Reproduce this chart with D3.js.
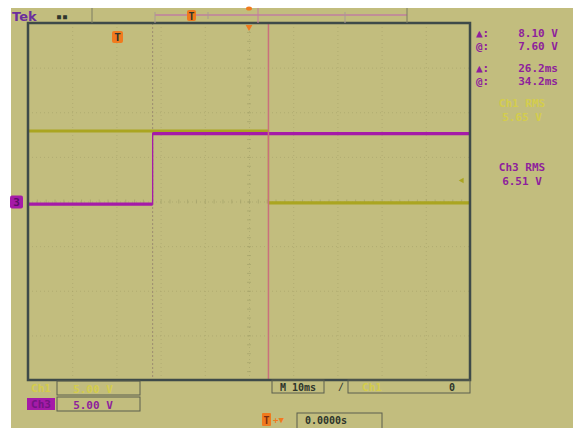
<!DOCTYPE html>
<html>
<head>
<meta charset="utf-8">
<script src="https://cdn.jsdelivr.net/npm/d3@7"></script>
<style>
  html, body { margin: 0; padding: 0; background: #fff; }
  svg { display: block; }
</style>
</head>
<body>
<svg id="scope" width="573" height="428"></svg>
<script>
// 10 ms/div across 10 divisions, 5 V/div across 8 divisions
const timeDivs = d3.range(-50, 51, 10);
const voltDivs = d3.range(-20, 21, 5);
const timeMinor = d3.range(-50, 51, 2);
const voltMinor = d3.range(-20, 21, 1);

// Ch1 (yellow) and Ch3 (magenta) traces
const ch1Time = [-50, 4.4, 4.4, 50];
const ch1Volts = [7.9, 7.9, -0.15, -0.15];
const ch3Time = [-50, -21.8, -21.8, 50];
const ch3Volts = [-0.3, -0.3, 7.6, 7.6];

const cursorTimes = [-21.8, 4.4];
const triggerLevel = 2.35;

const readoutLabels = ["\u25B2:", "@:", "\u25B2:", "@:"];
const readoutValues = ["8.10 V", "7.60 V", "26.2ms", "34.2ms"];
const rmsLabels = ["Ch1 RMS", "Ch3 RMS"];
const rmsValues = ["5.65 V", "6.51 V"];
const scaleLabels = ["Ch1", "Ch3"];
const scaleValues = ["5.00 V", "5.00 V"];

const bg = "#c2bd7e", frameCol = "#3e4a49", gridCol = "#a29f68";
const yellow = "#aaa521", magenta = "#a51aa8", textPurple = "#8e1f9c";
const paleYellow = "#d4cd4c", orange = "#f07a1e", dark = "#2e352c";
const mono = "'DejaVu Sans Mono', monospace";

const plot = { left: 28, right: 470, top: 23, bottom: 380 };

const svg = d3.select("#scope");
svg.append("rect").attr("width", 573).attr("height", 428).attr("fill", "#fff");
svg.append("rect").attr("x", 11).attr("y", 8).attr("width", 562).attr("height", 420).attr("fill", bg);

const x = d3.scaleLinear().domain([-50, 50]).range([plot.left, plot.right]);
const y = d3.scaleLinear().domain([-20, 20]).range([plot.bottom, plot.top]);

// graticule
const gx = svg.append("g")
    .attr("transform", "translate(0," + plot.top + ")")
    .call(d3.axisBottom(x).tickValues(timeDivs).tickSize(plot.bottom - plot.top).tickFormat(""));
const gy = svg.append("g")
    .attr("transform", "translate(" + plot.left + ",0)")
    .call(d3.axisRight(y).tickValues(voltDivs).tickSize(plot.right - plot.left).tickFormat(""));
[gx, gy].forEach(g => {
    g.select(".domain").remove();
    g.selectAll("line").attr("stroke", gridCol).attr("stroke-dasharray", "1,3").attr("opacity", 0.55);
});

// minor ticks on centre lines
const cx = svg.append("g")
    .attr("transform", "translate(0," + (y(0) - 2) + ")")
    .call(d3.axisBottom(x).tickValues(timeMinor).tickSize(4).tickFormat(""));
const cy = svg.append("g")
    .attr("transform", "translate(" + (x(0) - 2) + ",0)")
    .call(d3.axisRight(y).tickValues(voltMinor).tickSize(4).tickFormat(""));
[cx, cy].forEach(g => {
    g.select(".domain").remove();
    g.selectAll("line").attr("stroke", gridCol).attr("opacity", 0.65);
});

// cursors
svg.append("line")
    .attr("x1", x(cursorTimes[0])).attr("x2", x(cursorTimes[0]))
    .attr("y1", plot.top).attr("y2", plot.bottom)
    .attr("stroke", "#9c8c70").attr("stroke-dasharray", "2,2");

// traces: thin edges, thick levels
function drawTrace(times, volts, color) {
    const pts = times.map((t, i) => [t, volts[i]]);
    svg.append("path")
        .attr("d", d3.line().x(d => x(d[0])).y(d => y(d[1]))(pts))
        .attr("fill", "none").attr("stroke", color).attr("stroke-width", 1.3);
    for (let i = 0; i < pts.length - 1; i++) {
        if (pts[i][1] === pts[i + 1][1]) {
            svg.append("line")
                .attr("x1", x(pts[i][0])).attr("x2", x(pts[i + 1][0]))
                .attr("y1", y(pts[i][1])).attr("y2", y(pts[i + 1][1]))
                .attr("stroke", color).attr("stroke-width", 3.2);
        }
    }
}
drawTrace(ch1Time, ch1Volts, yellow);
drawTrace(ch3Time, ch3Volts, magenta);

svg.append("line")
    .attr("x1", x(cursorTimes[1])).attr("x2", x(cursorTimes[1]))
    .attr("y1", plot.top).attr("y2", plot.bottom)
    .attr("stroke", "#c9707c").attr("stroke-width", 1.5);

// frame
svg.append("rect")
    .attr("x", plot.left).attr("y", plot.top)
    .attr("width", plot.right - plot.left).attr("height", plot.bottom - plot.top)
    .attr("fill", "none").attr("stroke", frameCol).attr("stroke-width", 2.5);

// trigger level marker (right edge)
svg.append("path")
    .attr("d", d3.symbol(d3.symbolTriangle, 14)())
    .attr("transform", "translate(" + (x(50) - 8) + "," + y(triggerLevel) + ") rotate(-90)")
    .attr("fill", yellow);

// Ch3 ground marker
svg.append("rect").attr("x", 10).attr("y", y(0) - 6).attr("width", 13).attr("height", 13)
    .attr("rx", 2).attr("fill", magenta);
svg.append("text").attr("x", 16.5).attr("y", y(0) + 4.5).attr("text-anchor", "middle")
    .attr("font-family", mono).attr("font-size", 11).attr("font-weight", "bold")
    .attr("fill", "#5a0f66").text("3");

// trigger position markers
svg.append("ellipse").attr("cx", x(0)).attr("cy", 8.5).attr("rx", 3).attr("ry", 2).attr("fill", orange);
svg.append("path").attr("d", d3.symbol(d3.symbolTriangle, 20)())
    .attr("transform", "translate(" + x(0) + ",27) rotate(180)").attr("fill", orange);
svg.append("rect").attr("x", 112).attr("y", 31).attr("width", 11).attr("height", 12).attr("rx", 2).attr("fill", orange);
svg.append("text").attr("x", 117.5).attr("y", 41).attr("text-anchor", "middle")
    .attr("font-family", mono).attr("font-size", 11).attr("font-weight", "bold").attr("fill", dark).text("T");

// header
svg.append("text").attr("x", 12).attr("y", 21)
    .attr("font-family", "'DejaVu Sans', sans-serif").attr("font-size", 13).attr("font-weight", "bold")
    .attr("fill", "#6b2e9e").text("Tek");
svg.append("text").attr("x", 56).attr("y", 20)
    .attr("font-family", mono).attr("font-size", 10).attr("font-weight", "bold")
    .attr("fill", dark).text("\u25AA\u25AA");
svg.append("line").attr("x1", 92).attr("x2", 92).attr("y1", 8).attr("y2", 23).attr("stroke", "#7c7d62");
svg.append("line").attr("x1", 155).attr("x2", 407).attr("y1", 15).attr("y2", 15).attr("stroke", "#bf7fa0").attr("stroke-width", 1.5);
svg.append("line").attr("x1", 155).attr("x2", 155).attr("y1", 12).attr("y2", 23).attr("stroke", "#a99a93");
svg.append("line").attr("x1", 345).attr("x2", 345).attr("y1", 12).attr("y2", 23).attr("stroke", "#a99a93");
svg.append("line").attr("x1", 208).attr("x2", 208).attr("y1", 12).attr("y2", 19).attr("stroke", "#a99a93");
svg.append("line").attr("x1", 258).attr("x2", 258).attr("y1", 8).attr("y2", 23).attr("stroke", "#c77aa0");
svg.append("line").attr("x1", 407).attr("x2", 407).attr("y1", 8).attr("y2", 23).attr("stroke", "#7c7d62");
svg.append("rect").attr("x", 187).attr("y", 10).attr("width", 9).attr("height", 11).attr("rx", 2).attr("fill", orange);
svg.append("text").attr("x", 191.5).attr("y", 19.5).attr("text-anchor", "middle")
    .attr("font-family", mono).attr("font-size", 10).attr("font-weight", "bold").attr("fill", dark).text("T");

// readouts
const readoutY = [37, 50, 72, 85];
readoutLabels.forEach((t, i) => {
    svg.append("text").attr("x", 476).attr("y", readoutY[i])
        .attr("font-family", mono).attr("font-size", 11).attr("font-weight", "bold")
        .attr("fill", textPurple).text(t);
    svg.append("text").attr("x", 558).attr("y", readoutY[i]).attr("text-anchor", "end")
        .attr("font-family", mono).attr("font-size", 11).attr("font-weight", "bold")
        .attr("fill", textPurple).text(readoutValues[i]);
});
const rmsY = [107, 171];
const rmsCol = [paleYellow, textPurple];
rmsLabels.forEach((t, i) => {
    svg.append("text").attr("x", 522).attr("y", rmsY[i]).attr("text-anchor", "middle")
        .attr("font-family", mono).attr("font-size", 11).attr("font-weight", "bold")
        .attr("fill", rmsCol[i]).text(t);
    svg.append("text").attr("x", 522).attr("y", rmsY[i] + 14).attr("text-anchor", "middle")
        .attr("font-family", mono).attr("font-size", 11).attr("font-weight", "bold")
        .attr("fill", rmsCol[i]).text(rmsValues[i]);
});

// bottom channel scale boxes
const boxStroke = "#5b5f4e";
scaleLabels.forEach((t, i) => {
    const top = 381 + i * 16;
    if (i === 1) {
        svg.append("rect").attr("x", 27).attr("y", top + 1).attr("width", 28).attr("height", 12).attr("fill", magenta);
    }
    svg.append("text").attr("x", 41).attr("y", top + 11).attr("text-anchor", "middle")
        .attr("font-family", mono).attr("font-size", 11).attr("font-weight", "bold")
        .attr("fill", i === 0 ? paleYellow : "#741583").text(t);
    svg.append("rect").attr("x", 57).attr("y", top).attr("width", 83).attr("height", 14)
        .attr("fill", "none").attr("stroke", boxStroke);
    svg.append("text").attr("x", 93).attr("y", top + 11.5).attr("text-anchor", "middle")
        .attr("font-family", mono).attr("font-size", 11).attr("font-weight", "bold")
        .attr("fill", i === 0 ? paleYellow : textPurple).text(scaleValues[i]);
});

// time base and trigger boxes
svg.append("rect").attr("x", 272).attr("y", 380).attr("width", 52).attr("height", 13).attr("fill", "none").attr("stroke", boxStroke);
svg.append("text").attr("x", 298).attr("y", 390.5).attr("text-anchor", "middle")
    .attr("font-family", mono).attr("font-size", 10).attr("font-weight", "bold").attr("fill", dark).text("M 10ms");
svg.append("text").attr("x", 341).attr("y", 390).attr("text-anchor", "middle")
    .attr("font-family", mono).attr("font-size", 10).attr("fill", dark).text("\u2215");
svg.append("rect").attr("x", 348).attr("y", 380).attr("width", 122).attr("height", 13).attr("fill", "none").attr("stroke", boxStroke);
svg.append("text").attr("x", 372).attr("y", 391).attr("text-anchor", "middle")
    .attr("font-family", mono).attr("font-size", 11).attr("font-weight", "bold").attr("fill", paleYellow).text("Ch1");
svg.append("text").attr("x", 452).attr("y", 390.5).attr("text-anchor", "middle")
    .attr("font-family", mono).attr("font-size", 10).attr("font-weight", "bold").attr("fill", dark).text("0");

svg.append("rect").attr("x", 262).attr("y", 413).attr("width", 9).attr("height", 13).attr("rx", 1).attr("fill", orange);
svg.append("text").attr("x", 266.5).attr("y", 423.5).attr("text-anchor", "middle")
    .attr("font-family", mono).attr("font-size", 10).attr("font-weight", "bold").attr("fill", "#7a2c10").text("T");
svg.append("text").attr("x", 273).attr("y", 423).attr("font-family", mono).attr("font-size", 9).attr("font-weight", "bold")
    .attr("fill", orange).text("+\u25BC");
svg.append("rect").attr("x", 297).attr("y", 413).attr("width", 85).attr("height", 16).attr("fill", "none").attr("stroke", boxStroke);
svg.append("text").attr("x", 305).attr("y", 424).attr("font-family", mono).attr("font-size", 10).attr("font-weight", "bold")
    .attr("fill", dark).text("0.0000s");
</script>
</body>
</html>
